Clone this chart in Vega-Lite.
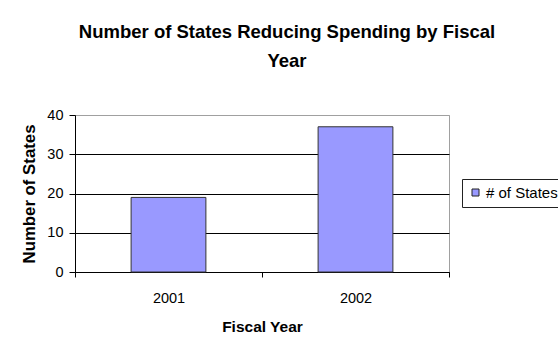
{
  "$schema": "https://vega.github.io/schema/vega-lite/v6.json",
  "width": 374,
  "height": 157,
  "autosize": {"type": "none"},
  "padding": {"left": 75, "top": 115, "right": 109, "bottom": 77},
  "background": "white",
  "title": {
    "text": ["Number of States Reducing Spending by Fiscal", "Year"],
    "font": "Liberation Sans",
    "fontSize": 18.5,
    "fontWeight": "bold",
    "color": "black",
    "lineHeight": 29,
    "anchor": "middle",
    "dx": 25,
    "offset": 37
  },
  "data": {
    "values": [
      {"year": "2001", "states": 19, "series": "# of States"},
      {"year": "2002", "states": 37, "series": "# of States"}
    ]
  },
  "mark": {"type": "bar", "width": {"band": 0.4}, "stroke": "#333333", "strokeWidth": 1},
  "encoding": {
    "x": {
      "field": "year",
      "type": "nominal",
      "scale": {"paddingInner": 0, "paddingOuter": 0},
      "axis": {
        "title": "Fiscal Year",
        "titleFontSize": 15.5,
        "labelAngle": 0,
        "tickBand": "extent",
        "tickSize": 5,
        "labelPadding": 14,
        "titlePadding": 15
      }
    },
    "y": {
      "field": "states",
      "type": "quantitative",
      "scale": {"domain": [0, 40], "nice": false},
      "axis": {
        "title": "Number of States",
        "titleFontSize": 16.8,
        "values": [0, 10, 20, 30, 40],
        "tickSize": 6,
        "labelPadding": 6,
        "titlePadding": 8,
        "grid": true,
        "gridColor": {"condition": {"test": "datum.value === 40", "value": "#a0a0a0"}, "value": "black"}
      }
    },
    "color": {
      "field": "series",
      "type": "nominal",
      "scale": {"range": ["#9999FF"]},
      "legend": {
        "title": null,
        "orient": "none",
        "legendX": 387,
        "legendY": 64,
        "padding": 6,
        "strokeColor": "#222222",
        "symbolType": "square",
        "symbolSize": 49,
        "symbolStrokeColor": "#222222",
        "symbolStrokeWidth": 1,
        "symbolOpacity": 1,
        "labelFontSize": 15,
        "labelFont": "Liberation Sans",
        "labelColor": "black",
        "labelOffset": 3
      }
    }
  },
  "config": {
    "font": "Liberation Sans",
    "view": {"stroke": "#a0a0a0", "strokeWidth": 1},
    "axis": {
      "domainColor": "black",
      "tickColor": "black",
      "labelColor": "black",
      "titleColor": "black",
      "labelFont": "Liberation Sans",
      "titleFont": "Liberation Sans",
      "labelFontSize": 14.5,
      "titleFontWeight": "bold",
      "gridOpacity": 1,
      "domainWidth": 1,
      "gridWidth": 1
    },
    "axisX": {"grid": false}
  }
}
